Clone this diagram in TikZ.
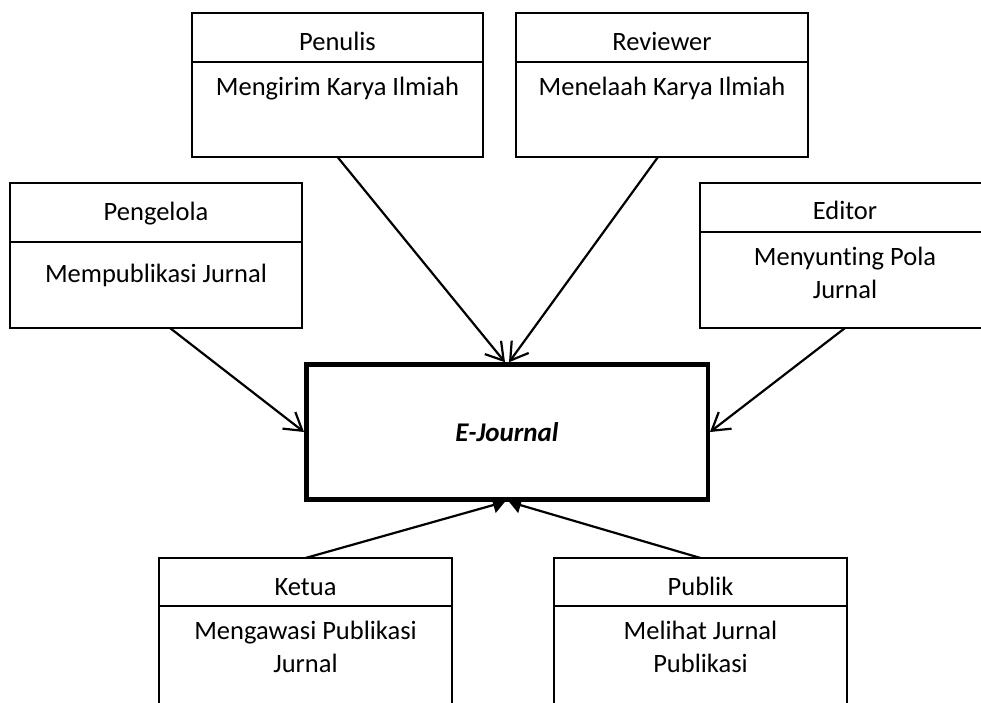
\documentclass[tikz,border=0pt]{standalone}
\usepackage{fontspec}
\setmainfont{Carlito}[Ligatures={NoCommon}]
\usetikzlibrary{arrows.meta,calc}
\begin{document}
\begin{tikzpicture}[x=1pt,y=-1pt,
  every node/.style={font=\fontsize{26.5}{33}\selectfont},
  box/.style={draw, line width=1.4pt, inner sep=0pt, outer sep=0pt, anchor=north west},
  txt/.style={inner sep=0pt, anchor=base, align=center},
  inarrow/.style={-{Straight Barb[length=17pt,width=21pt]}, line width=2.2pt},
  uparrow/.style={-{Triangle[length=12pt,width=16pt]}, line width=2.2pt},
  mainbox/.style={draw, line width=4.5pt, minimum width=401.5pt, minimum height=135pt, inner sep=0pt,
    font=\fontsize{27}{33}\selectfont\bfseries\itshape}]
\useasboundingbox (0,0) rectangle (981,702);

% Central node
\node[mainbox] (ej) at (507,432) {E-Journal};

% Penulis
\node[box, minimum width=291pt, minimum height=49pt] (penH) at (192,13) {};
\node[box, minimum width=291pt, minimum height=95pt] (penB) at (192,62) {};
\node[txt] (penT) at (337.5,50) {Penulis};
\node[txt] (penD) at (337.5,95) {Mengirim Karya Ilmiah};

% Reviewer
\node[box, minimum width=292pt, minimum height=49pt] (revH) at (516,13) {};
\node[box, minimum width=292pt, minimum height=95pt] (revB) at (516,62) {};
\node[txt] (revT) at (662,50) {Reviewer};
\node[txt] (revD) at (662,95) {Menelaah Karya Ilmiah};

% Pengelola
\node[box, minimum width=292pt, minimum height=59pt] (pgH) at (10,183) {};
\node[box, minimum width=292pt, minimum height=86pt] (pgB) at (10,242) {};
\node[txt] (pgT) at (156,220) {Pengelola};
\node[txt] (pgD) at (156,282) {Mempublikasi Jurnal};

% Editor
\node[box, minimum width=290pt, minimum height=49pt] (edH) at (700,183) {};
\node[box, minimum width=290pt, minimum height=96pt] (edB) at (700,232) {};
\node[txt] (edT) at (845,219) {Editor};
\node[txt] (edD) at (845,298) {Menyunting Pola\\Jurnal};

% Ketua
\node[box, minimum width=293pt, minimum height=48pt] (ktH) at (159,558) {};
\node[box, minimum width=293pt, minimum height=120pt] (ktB) at (159,606) {};
\node[txt] (ktT) at (305.5,595) {Ketua};
\node[txt] (ktD) at (305.5,672) {Mengawasi Publikasi\\Jurnal};

% Publik
\node[box, minimum width=293pt, minimum height=48pt] (pbH) at (554,558) {};
\node[box, minimum width=293pt, minimum height=120pt] (pbB) at (554,606) {};
\node[txt] (pbT) at (700.5,595) {Publik};
\node[txt] (pbD) at (700.5,672) {Melihat Jurnal\\Publikasi};

% Connectors
\draw[inarrow] (penB.south) -- ([xshift=-2pt]ej.north);
\draw[inarrow] ([xshift=-4pt]revB.south) -- ([xshift=2pt]ej.north);
\draw[inarrow] ([xshift=14pt]pgB.south) -- (ej.west);
\draw[inarrow] (edB.south) -- (ej.east);
\draw[uparrow] (ktH.north) -- ([xshift=-2pt]ej.south);
\draw[uparrow] (pbH.north) -- ([xshift=2pt]ej.south);
\end{tikzpicture}
\end{document}
